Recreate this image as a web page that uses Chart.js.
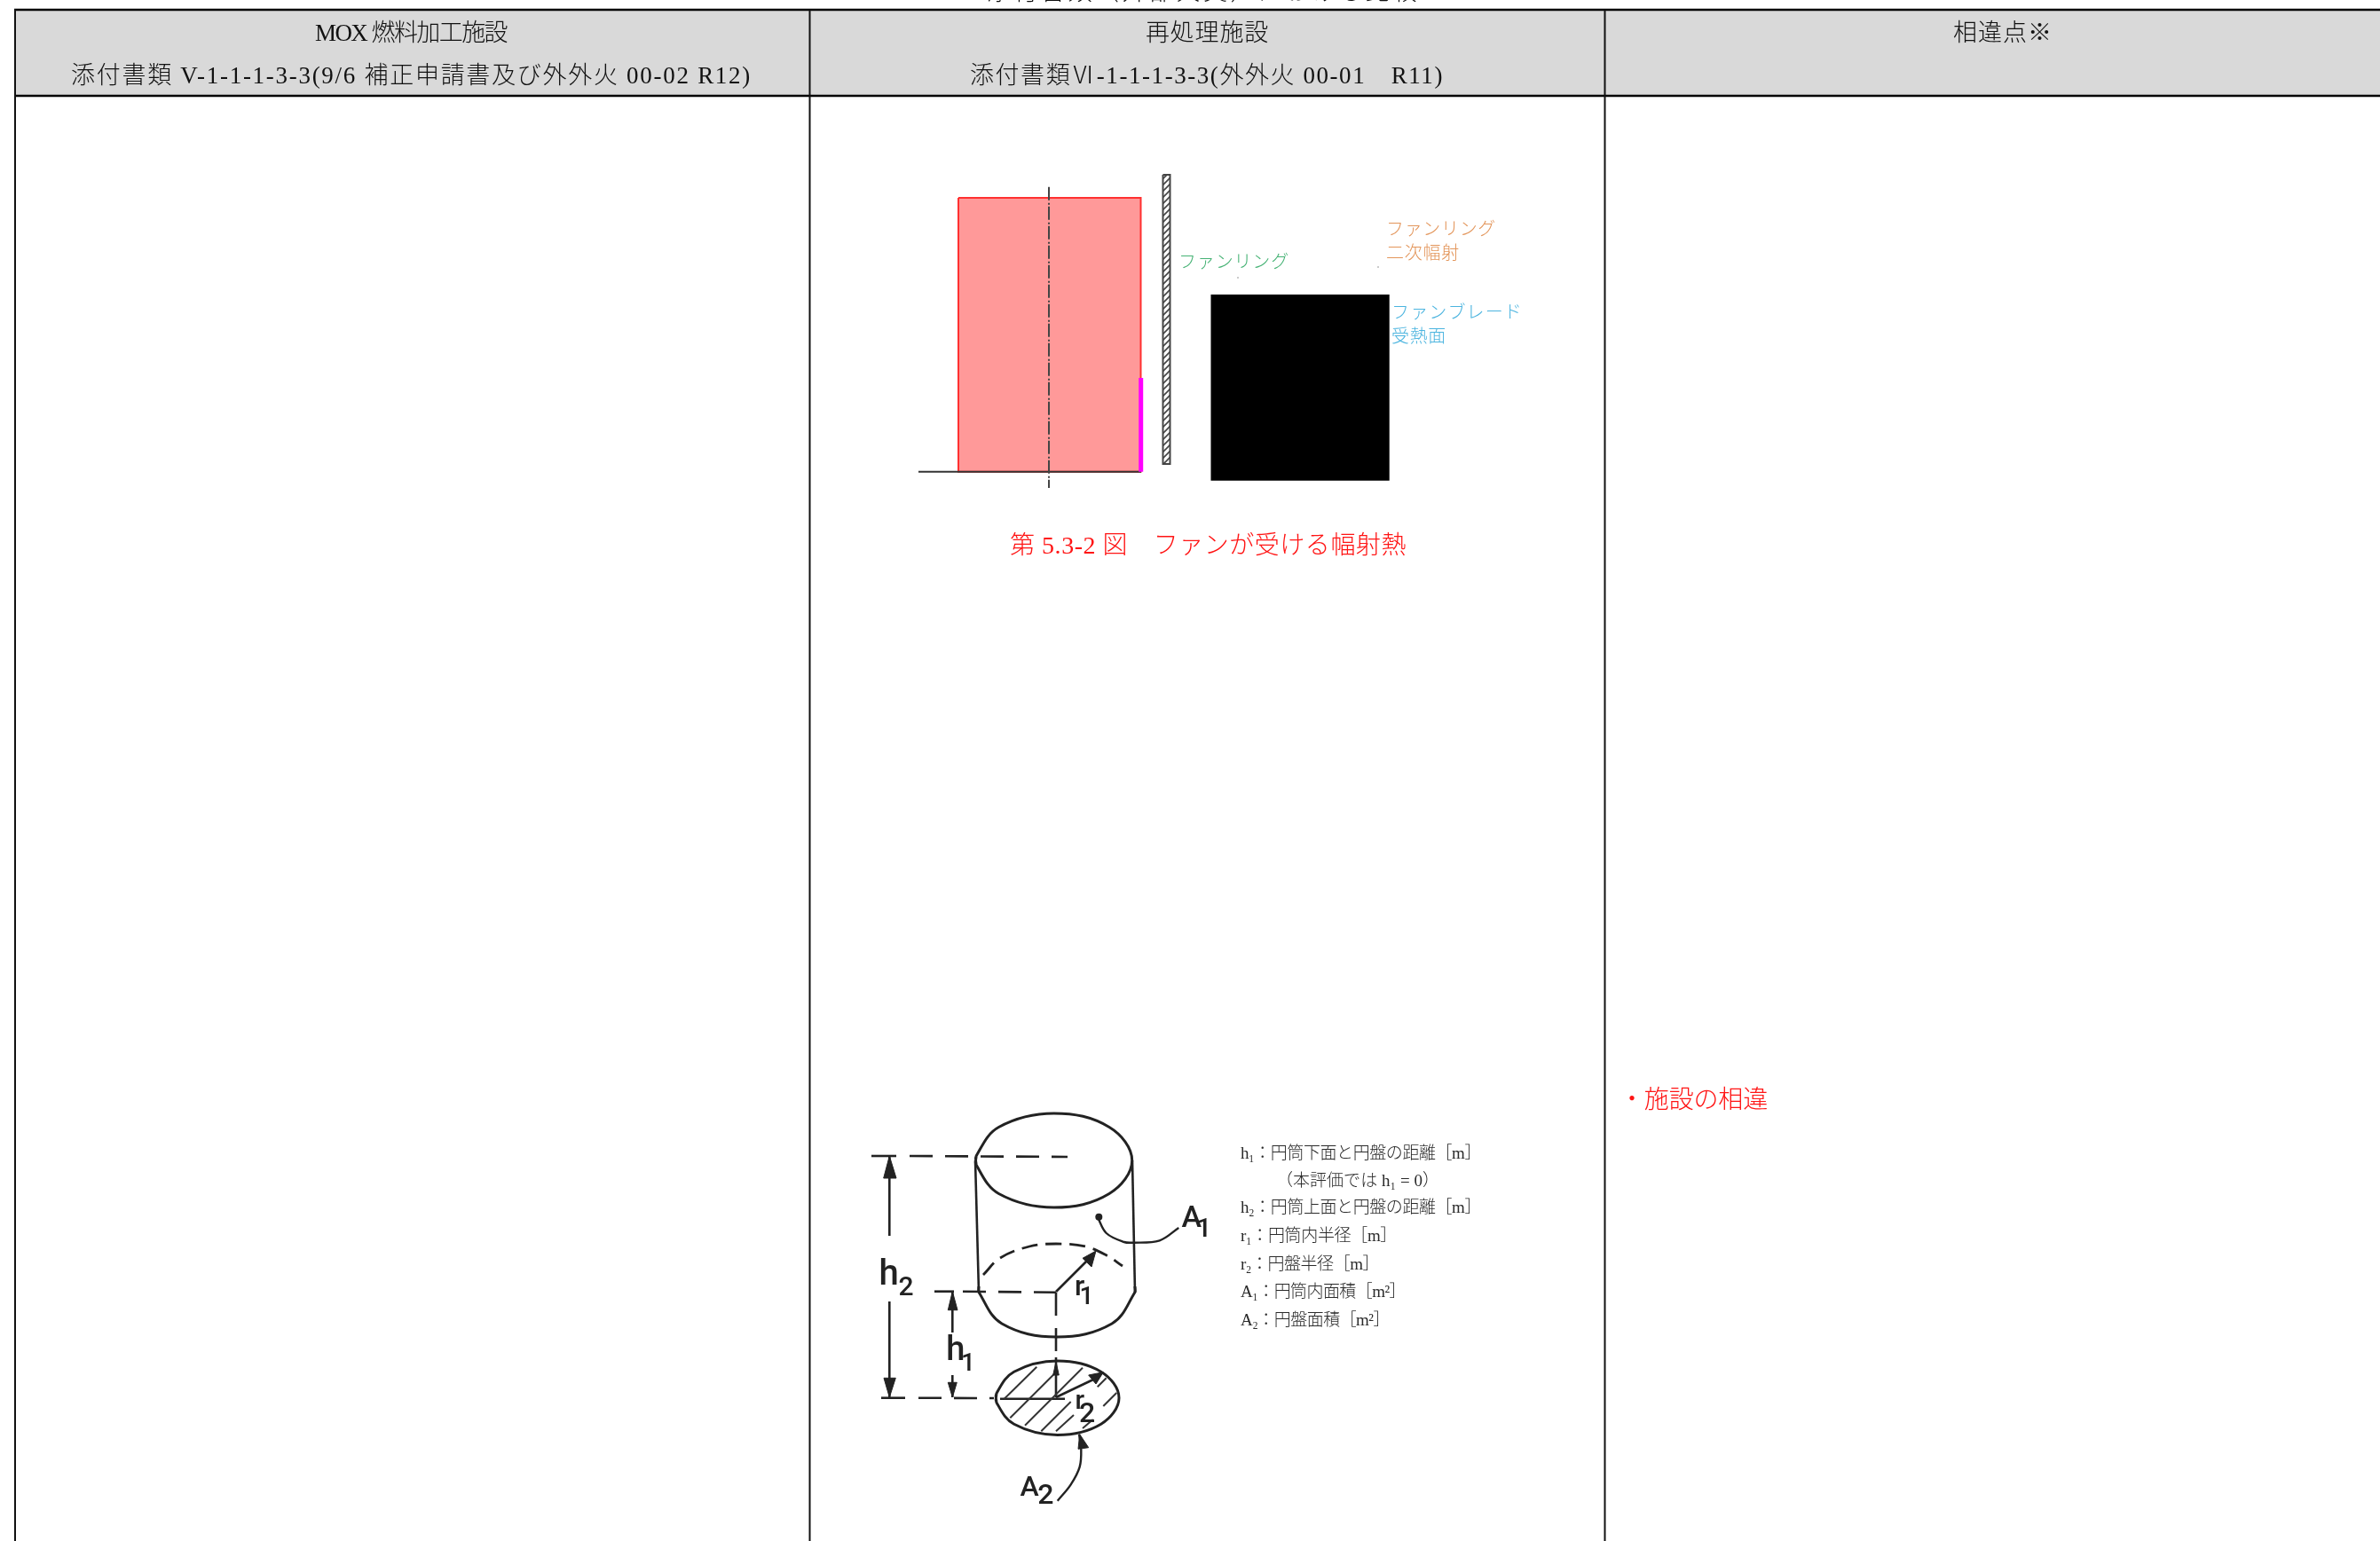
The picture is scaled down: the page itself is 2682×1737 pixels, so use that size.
<!DOCTYPE html>
<html lang="ja">
<head>
<meta charset="utf-8">
<title>第5.3-2図</title>
<script src="https://cdn.jsdelivr.net/npm/chart.js@4/dist/chart.umd.min.js"></script>
<style>
  html, body { margin: 0; padding: 0; background: #fff; overflow: hidden; }
  canvas { display: block; }
</style>
</head>
<body>
<canvas id="sheet" width="2682" height="1737"></canvas>
<script>
// everything in page units, x to the right and y downwards

// table
const headerBand = [[18, 12], [2682, 12], [2682, 107], [18, 107], [18, 12]];
const ruleTop = [[16, 11], [2682, 11]];
const ruleHeader = [[16, 108], [2682, 108]];
const ruleCols = [
  [[17, 10], [17, 1737]],
  [[912.5, 11], [912.5, 1737]],
  [[1808.5, 11], [1808.5, 1737]]
];

// [text, left, right, middle]
const headerTexts = [
  ['MOX 燃料加工施設', 355, 571, 39],
  ['添付書類 V-1-1-1-3-3(9/6 補正申請書及び外外火 00-02 R12)', 80, 847, 87],
  ['再処理施設', 1291, 1430, 39],
  ['添付書類Ⅵ-1-1-1-3-3(外外火 00-01　R11)', 1093, 1627, 87],
  ['相違点※', 2201, 2313, 39]
];
const clippedTitle = [['添付書類（外部火災）における比較', 1112, 1600, -7]];
const redTexts = [
  ['第 5.3-2 図　ファンが受ける幅射熱', 1138, 1585, 617],
  ['・施設の相違', 1825, 1992, 1242]
];

// fan figure
const heatedPanel = [[1080, 223], [1285.5, 223], [1285.5, 531.7], [1080, 531.7], [1080, 223]];
const hotEdge = [[1285.7, 426], [1285.7, 531.7]];
const groundLine = [[1035, 531.7], [1286, 531.7]];
const axisLine = [[1182, 210.7], [1182, 550]];
const fanRing = [[1310.5, 197], [1318.5, 197], [1318.5, 523], [1310.5, 523], [1310.5, 197]];
const fanBlade = [[1364.5, 332], [1565.7, 332], [1565.7, 541.7], [1364.5, 541.7], [1364.5, 332]];
const strayDots = [[1395, 313], [1553, 301]];
const greenTexts = [['ファンリング', 1328, 1453, 297]];
const orangeTexts = [['ファンリング', 1562, 1686, 260], ['二次幅射', 1562, 1645, 287]];
const blueTexts = [['ファンブレード', 1568, 1716, 353.7], ['受熱面', 1568, 1630, 381]];

// cylinder and disc figure
const topEllipse = [[1100.1, 1313], [1100.1, 1303], [1125.5, 1270.5], [1187.7, 1255], [1250, 1270.5], [1275.7, 1308], [1250, 1345.5], [1187.7, 1361], [1125.5, 1345.5], [1100.1, 1313], [1100.1, 1303]];
const bottomFront = [[1103, 1450], [1103.3, 1457], [1129, 1492], [1191, 1507], [1253, 1492], [1278.7, 1457], [1279, 1450]];
const bottomBack = [[1108, 1437], [1127, 1418], [1160, 1405], [1190, 1402], [1223, 1405], [1247, 1415], [1265, 1427]];
const discEllipse = [[1122.9, 1580.7], [1122.9, 1570.7], [1142.7, 1546.2], [1191.7, 1534], [1240.7, 1546.2], [1261, 1575.7], [1240.7, 1605.2], [1191.7, 1617.4], [1142.7, 1605.2], [1122.9, 1580.7], [1122.9, 1570.7]];
const solidLines = [
  [[1099, 1308], [1103, 1457]],
  [[1276, 1308], [1279, 1457]],
  [[982, 1303], [1010, 1303]],
  [[1002.3, 1303], [1002.3, 1393]],
  [[1002.3, 1467], [1002.3, 1575]],
  [[1053, 1455.7], [1075, 1455.7]],
  [[1073.3, 1456], [1073.3, 1502]],
  [[1073.3, 1550], [1073.3, 1575]],
  [[993, 1575.7], [1020, 1575.7]],
  [[1127, 1576.7], [1200, 1576.7]],
  [[1190, 1530], [1190, 1575]],
  [[1190, 1456], [1228, 1418]],
  [[1190, 1575], [1232, 1555]]
];
const dashedLines = [
  [[1025, 1303], [1203, 1304]],
  [[1085, 1455.7], [1190, 1456.7]],
  [[1035, 1575.7], [1120, 1576]],
  [[1190, 1457], [1190, 1530]]
];
const discHatch = [
  [[1131.7, 1576.7], [1168.3, 1540.7]],
  [[1138.3, 1598.3], [1191.7, 1545]],
  [[1155, 1606.7], [1220, 1541.7]],
  [[1173.3, 1613.3], [1206.7, 1580]],
  [[1190, 1613.3], [1210, 1595]],
  [[1236.7, 1563.3], [1246.7, 1553.3]],
  [[1243.3, 1585], [1258.3, 1570]],
  [[1220, 1610], [1231.7, 1600]]
];
const leaderA1 = [[1236.7, 1371.7], [1246.7, 1390], [1266.7, 1400], [1276.7, 1400.7], [1306.7, 1398.3], [1328.3, 1384]];
const leaderA2 = [[1191.7, 1691.7], [1206.7, 1673.3], [1216.7, 1653.3], [1218.3, 1633.3], [1216, 1616.7]];
const leaderDot = [[1238.3, 1371.7]];
const arrowHeads = [
  [[1002.3, 1303], [995.7, 1328], [1010, 1328], [1002.3, 1303]],
  [[1002.3, 1575], [996, 1553.3], [1009.3, 1553.3], [1002.3, 1575]],
  [[1073.3, 1455.7], [1068.3, 1476.7], [1079, 1476.7], [1073.3, 1455.7]],
  [[1073.3, 1575], [1068.3, 1558.3], [1078.3, 1558.3], [1073.3, 1575]],
  [[1235, 1410], [1220, 1418.3], [1230, 1428], [1235, 1410]],
  [[1243.3, 1546.7], [1226.7, 1550], [1235, 1560], [1243.3, 1546.7]],
  [[1190, 1535], [1186.7, 1550], [1193.3, 1550], [1190, 1535]],
  [[1216.7, 1616.7], [1215, 1633.3], [1226.7, 1631.7], [1216.7, 1616.7]]
];
// [text, centre x, middle, size]
const figureLabels = [
  ['h', 1001.7, 1438, 40], ['2', 1021, 1452.7, 30],
  ['h', 1076.7, 1523, 38], ['1', 1091, 1538.3, 28],
  ['r', 1216.7, 1451.7, 32], ['1', 1224.5, 1463, 28],
  ['A', 1342.7, 1374, 34], ['1', 1356.7, 1386.7, 30],
  ['A', 1160, 1678, 32], ['2', 1178.3, 1686.7, 32],
  ['r', 1216.7, 1580, 30], ['2', 1225, 1595, 32]
];
const legendTexts = [
  ['h₁：円筒下面と円盤の距離［m］', 1398, 1669, 1301],
  ['（本評価では h₁ = 0）', 1438, 1622, 1332],
  ['h₂：円筒上面と円盤の距離［m］', 1398, 1669, 1362],
  ['r₁：円筒内半径［m］', 1398, 1574, 1394],
  ['r₂：円盤半径［m］', 1398, 1554, 1426],
  ['A₁：円筒内面積［m²］', 1398, 1584, 1457],
  ['A₂：円盤面積［m²］', 1398, 1566, 1489]
];

const MINCHO = '"Liberation Serif", "Noto Sans CJK JP", serif';

function toPoints(pairs) {
  return pairs.map(p => ({ x: p[0], y: p[1] }));
}

function line(pairs, color, width, extra) {
  return Object.assign({
    data: toPoints(pairs),
    showLine: true,
    pointRadius: 0,
    borderColor: color,
    borderWidth: width,
    borderCapStyle: 'butt',
    fill: false
  }, extra || {});
}

function shape(pairs, fillColor, borderColor, width) {
  return line(pairs, borderColor, width, { fill: 'shape', backgroundColor: fillColor, borderJoinStyle: 'miter' });
}

function hatchPattern() {
  const tile = document.createElement('canvas');
  tile.width = 7;
  tile.height = 7;
  const c = tile.getContext('2d');
  c.fillStyle = '#fff';
  c.fillRect(0, 0, 7, 7);
  c.strokeStyle = '#444';
  c.lineWidth = 1.6;
  c.beginPath();
  c.moveTo(-2, 9);
  c.lineTo(9, -2);
  c.moveTo(-2, 2);
  c.lineTo(2, -2);
  c.moveTo(5, 9);
  c.lineTo(9, 5);
  c.stroke();
  return document.createElement('canvas').getContext('2d').createPattern(tile, 'repeat');
}

const INK = '#222';
const datasets = [
  shape(headerBand, '#d9d9d9', '#d9d9d9', 0),
  line(ruleTop, '#000', 2.5),
  line(ruleHeader, '#000', 2.5),
  ...ruleCols.map(r => line(r, '#111', 2)),

  shape(heatedPanel, '#ff9999', '#ff3030', 2),
  line(groundLine, '#333', 2),
  line(axisLine, '#444', 2, { borderDash: [15, 3, 2, 2] }),
  line(hotEdge, '#ff00ff', 5),
  shape(fanRing, hatchPattern(), '#444', 2),
  shape(fanBlade, '#000', '#000', 0),
  line(strayDots, '#888', 0, { showLine: false, pointRadius: 0.8, pointBackgroundColor: '#888' }),

  line(topEllipse, INK, 3, { tension: 0.38 }),
  line(bottomFront, INK, 3, { tension: 0.38 }),
  line(bottomBack, INK, 2.8, { tension: 0.38, borderDash: [18, 9] }),
  line(discEllipse, INK, 3, { tension: 0.38 }),
  ...solidLines.map(s => line(s, INK, 2.6)),
  ...dashedLines.map(s => line(s, INK, 2.6, { borderDash: [26, 14] })),
  ...discHatch.map(s => line(s, '#333', 2)),
  line(leaderA1, INK, 2.4, { tension: 0.35 }),
  line(leaderA2, INK, 2.4, { tension: 0.35 }),
  line(leaderDot, INK, 0, { showLine: false, pointRadius: 4, pointBackgroundColor: INK }),
  ...arrowHeads.map(a => shape(a, INK, INK, 1))
];
// later entries paint on top
datasets.forEach((d, i) => { d.order = -i; });

const textPlugin = {
  id: 'textPlugin',
  afterDatasetsDraw(chart) {
    const ctx = chart.ctx;
    const sx = chart.scales.x;
    const sy = chart.scales.y;

    function fitted(rows, font, color) {
      ctx.font = font;
      ctx.fillStyle = color;
      ctx.textAlign = 'left';
      ctx.textBaseline = 'middle';
      rows.forEach(([text, left, right, mid]) => {
        ctx.letterSpacing = '0px';
        const chars = Array.from(text).length;
        const leftPx = sx.getPixelForValue(left);
        const room = sx.getPixelForValue(right) - leftPx;
        ctx.letterSpacing = ((room - ctx.measureText(text).width) / chars).toFixed(3) + 'px';
        ctx.fillText(text, leftPx, sy.getPixelForValue(mid));
      });
      ctx.letterSpacing = '0px';
    }

    ctx.save();
    fitted(headerTexts, '300 27px ' + MINCHO, '#111');
    fitted(clippedTitle, '300 27px ' + MINCHO, '#111');
    fitted(redTexts, '300 28px ' + MINCHO, '#ff1414');
    fitted(greenTexts, '300 20px ' + MINCHO, '#45b274');
    fitted(orangeTexts, '300 20px ' + MINCHO, '#e3955a');
    fitted(blueTexts, '300 20px ' + MINCHO, '#4bb4df');
    fitted(legendTexts, '300 19px ' + MINCHO, '#2a2a2a');

    ctx.textAlign = 'center';
    ctx.textBaseline = 'middle';
    ctx.fillStyle = INK;
    figureLabels.forEach(([text, x, mid, size]) => {
      ctx.font = '500 ' + size + 'px Roboto, sans-serif';
      ctx.fillText(text, sx.getPixelForValue(x), sy.getPixelForValue(mid));
    });
    ctx.restore();
  }
};

new Chart(document.getElementById('sheet'), {
  type: 'scatter',
  data: { datasets },
  options: {
    responsive: false,
    animation: false,
    events: [],
    layout: { padding: 0, autoPadding: false },
    scales: {
      x: { type: 'linear', min: 0, max: 2682, display: false },
      y: { type: 'linear', min: 0, max: 1737, reverse: true, display: false }
    },
    plugins: {
      legend: { display: false },
      tooltip: { enabled: false }
    }
  },
  plugins: [textPlugin]
});
</script>
</body>
</html>
